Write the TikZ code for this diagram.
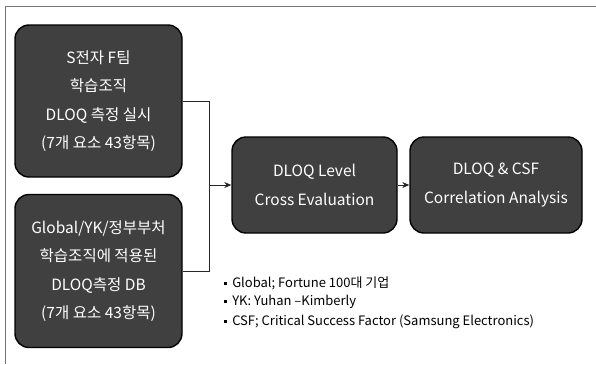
\documentclass[tikz,border=0pt]{standalone}
\usepackage{fontspec}
\setmainfont{Noto Sans CJK KR}
\usetikzlibrary{arrows.meta}

\begin{document}
\begin{tikzpicture}[x=1pt, y=-1pt,
    darkbox/.style={draw=black, line width=1.4pt, fill=black!75, rounded corners=14pt,
                    text=white, align=center, inner sep=0pt,
                    font=\fontsize{15.5}{28.5}\selectfont},
    link/.style={draw=black!85, line width=0.8pt},
    note/.style={anchor=west, inner sep=0pt, font=\fontsize{13}{15}\selectfont}]
    \useasboundingbox (0,0) rectangle (596,364);
    \draw[black!55, line width=0.8pt] (596,6) -- (5,6) -- (5,364);

    \node[darkbox, minimum width=167pt, minimum height=152pt] (sdata) at (98.5, 101) {S전자 F팀\\학습조직\\DLOQ 측정 실시\\(7개 요소 43항목)};
    \node[darkbox, minimum width=167pt, minimum height=153pt] (gdata) at (98.5, 271) {Global/YK/정부부처\\학습조직에 적용된\\DLOQ측정 DB\\(7개 요소 43항목)};
    \node[darkbox, minimum width=165pt, minimum height=96pt] (cross) at (314.5, 185) {DLOQ Level\\Cross Evaluation};
    \node[darkbox, minimum width=172pt, minimum height=96pt] (corr) at (496, 185) {DLOQ \& CSF\\Correlation Analysis};
    \coordinate (join) at (209, 185);

    \draw[link] (sdata.east) -| (join)
                (gdata.east) -| (join);
    \draw[link, -{Stealth[length=7pt, width=6pt]}] (join) -- (cross.west);
    \draw[link, -{Stealth[length=7pt, width=6pt]}] (cross.east) -- (corr.west);

    \node[note] (n1) at (224, 283) {\rule[2.5pt]{3pt}{3pt}\, Global; Fortune 100대 기업};
    \node[note] (n2) at (224, 302) {\rule[2.5pt]{3pt}{3pt}\, YK: Yuhan –Kimberly};
    \node[note] (n3) at (224, 322) {\rule[2.5pt]{3pt}{3pt}\, CSF; Critical Success Factor (Samsung Electronics)};
\end{tikzpicture}
\end{document}
